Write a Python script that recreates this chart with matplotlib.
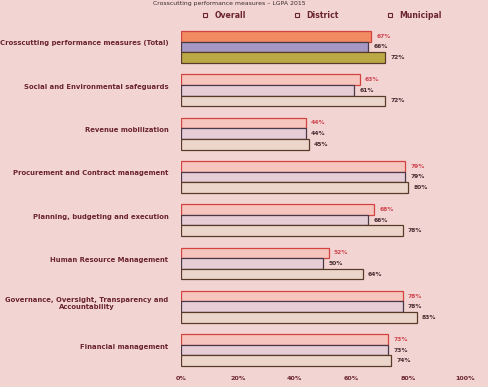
import matplotlib
matplotlib.use("Agg")
import matplotlib.pyplot as plt
from matplotlib.lines import Line2D
import matplotlib.transforms as mtransforms

categories = [
    "Crosscutting performance measures (Total)",
    "Social and Environmental safeguards",
    "Revenue mobilization",
    "Procurement and Contract management",
    "Planning, budgeting and execution",
    "Human Resource Management",
    "Governance, Oversight, Transparency and\nAccountability",
    "Financial management",
]
overall = [67, 63, 44, 79, 68, 52, 78, 73]
district = [66, 61, 44, 79, 66, 50, 78, 73]
municipal = [72, 72, 45, 80, 78, 64, 83, 74]
series_names = ["Overall", "District", "Municipal"]
xticks = [0, 20, 40, 60, 80, 100]
xtick_labels = ["0%", "20%", "40%", "60%", "80%", "100%"]

bg = "#f2d5d3"
text_col = "#6b2430"
fills_first = ["#f28a62", "#a598c2", "#bba946"]
fills_rest = ["#f6c6be", "#e6cdd6", "#ecd6cb"]
edges = ["#d2423e", "#4a3a48", "#5a3a28"]
label_cols = ["#d0464e", "#4a2a30", "#4a2a30"]

fig = plt.figure(figsize=(4.88, 3.87), dpi=100, facecolor=bg)
ax = fig.add_axes([181/488, 1-372/387, 284/488, (372-25)/387])
ax.set_facecolor(bg)

h = 0.245
offsets = [-h, 0, h]
for s, vals in enumerate([overall, district, municipal]):
    for i, v in enumerate(vals):
        fc = fills_first[s] if i == 0 else fills_rest[s]
        ax.barh(i + offsets[s], v, height=h, color=fc, edgecolor=edges[s], linewidth=0.9)
        ax.text(v + 1.8, i + offsets[s], f"{v}%", va="center", ha="left",
                fontsize=4.3, fontweight="bold", color=label_cols[s])

ax.set_xlim(0, 100)
ax.set_ylim(7.506, -0.508)
for sp in ax.spines.values():
    sp.set_visible(False)
ax.set_yticks(range(len(categories)))
ax.set_yticklabels(categories, fontsize=4.95, fontweight="bold", color=text_col,
                   multialignment="center")
ax.tick_params(axis="y", length=0, pad=9)
ax.set_xticks(xticks)
ax.set_xticklabels(xtick_labels, fontsize=4.6, fontweight="bold", color=text_col)
ax.tick_params(axis="x", length=0, pad=3)

offset = mtransforms.ScaledTranslation(0, 4/100, fig.dpi_scale_trans)
for lbl in ax.get_yticklabels():
    lbl.set_transform(lbl.get_transform() + offset)

handles = [Line2D([0], [0], marker="s", linestyle="none", markerfacecolor="none",
                  markeredgecolor=text_col, markersize=3.5, markeredgewidth=0.8)
           for _ in series_names]
fig.legend(handles, series_names, loc="center", bbox_to_anchor=(0.655, 1-15/387),
           ncol=3, frameon=False, prop={"weight": "bold", "size": 5.6},
           columnspacing=5.6, handletextpad=0.2, labelcolor=text_col)

fig.text(0.47, 1-0.5/387, "Crosscutting performance measures – LGPA 2015", ha="center", va="top",
         fontsize=4.4, color="#3a2a2a")

fig.savefig("out.png", dpi=100, facecolor=bg)
